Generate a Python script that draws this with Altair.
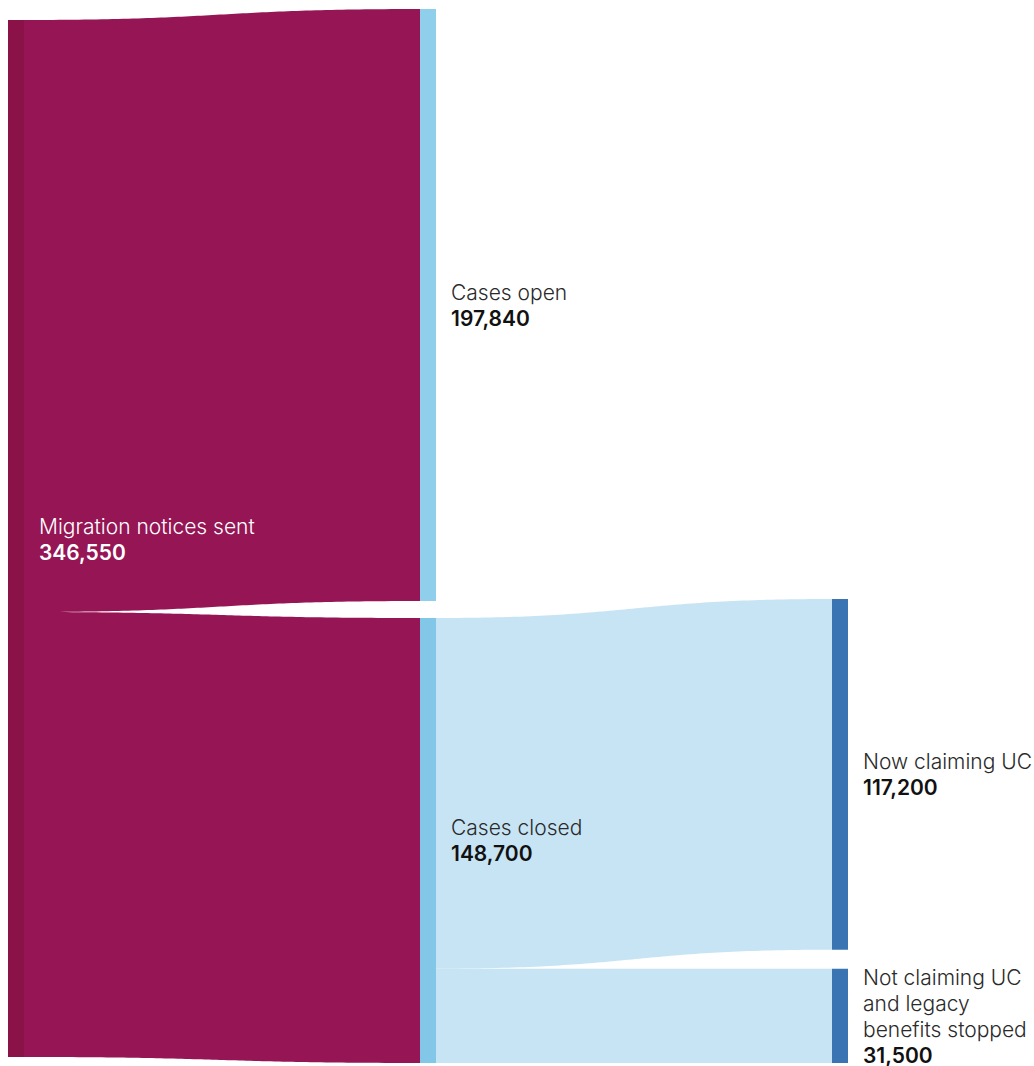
import altair as alt
import pandas as pd
import numpy as np

# ---------------- data ----------------
node_label_lines = [
    ["Migration notices sent"],
    ["Cases open"],
    ["Cases closed"],
    ["Now claiming UC"],
    ["Not claiming UC", "and legacy", "benefits stopped"],
]
node_values = [346550, 197840, 148700, 117200, 31500]
node_stage = [0, 1, 1, 2, 2]
node_colors = ["#8a1249", "#90cfeb", "#82c6e8", "#3a74b2", "#3a74b2"]

link_source = [0, 0, 2, 2]
link_target = [1, 2, 3, 4]
link_values = [197840, 148700, 117200, 31500]
link_colors = ["#951555", "#951555", "#c7e4f4", "#c7e4f4"]

# ---------------- layout constants ----------------
W, H = 1034, 1066
LEFT_PX, COL_STEP_PX, NODE_W_PX = 8, 412, 16
UPP = 346550 / 1037.0            # value units per pixel
COL_TOP_PX = {0: 20, 1: 9, 2: 599}
COL_PAD_PX = {0: 0, 1: 17, 2: 19}
LABEL_GAP_PX = 15
LINE_H_PX = 26
FONT = "Inter"
FONT_SIZE = 21

nw = NODE_W_PX / COL_STEP_PX
x_min = -LEFT_PX / COL_STEP_PX
x_max = (W - LEFT_PX) / COL_STEP_PX
y_max = H * UPP

# node positions
node_top = []
col_cursor = {}
for i, (s, v) in enumerate(zip(node_stage, node_values)):
    if s not in col_cursor:
        col_cursor[s] = COL_TOP_PX[s] * UPP
    node_top.append(col_cursor[s])
    col_cursor[s] += v + COL_PAD_PX[s] * UPP

nodes_df = pd.DataFrame({
    "x": node_stage,
    "x2": [s + nw for s in node_stage],
    "y": node_top,
    "y2": [t + v for t, v in zip(node_top, node_values)],
    "color": node_colors,
})

# link shapes (horizontal bezier as in d3-sankey)
out_cursor = {i: node_top[i] for i in range(len(node_values))}
in_cursor = {i: node_top[i] for i in range(len(node_values))}
rows = []
t = np.linspace(0, 1, 80)
for k, (s, tg, v, c) in enumerate(zip(link_source, link_target, link_values, link_colors)):
    ys = out_cursor[s]
    yt = in_cursor[tg]
    out_cursor[s] += v
    in_cursor[tg] += v
    x0 = node_stage[s] + nw
    x1 = node_stage[tg]
    xs = x0 + (x1 - x0) * (1.5 * t * (1 - t) + t ** 3)
    yc = ys + (yt - ys) * (3 * t ** 2 - 2 * t ** 3)
    for xx, yy in zip(xs, yc):
        rows.append({"link": k, "x": xx, "y0": yy, "y1": yy + v, "color": c})
links_df = pd.DataFrame(rows)

# labels
name_rows, value_rows = [], []
for i, lines in enumerate(node_label_lines):
    all_lines = lines + [f"{node_values[i]:,}"]
    n = len(all_lines)
    mid = node_top[i] + node_values[i] / 2
    lx = node_stage[i] + nw + LABEL_GAP_PX / COL_STEP_PX
    for j, line in enumerate(all_lines):
        yy = mid + (j - (n - 1) / 2) * LINE_H_PX * UPP
        is_value = j == n - 1
        if node_stage[i] == 0:
            col = "#ffffff"
        else:
            col = "#111111" if is_value else "#2a2a2a"
        row = {"x": lx, "y": yy, "text": line, "color": col}
        (value_rows if is_value else name_rows).append(row)
names_df = pd.DataFrame(name_rows)
values_df = pd.DataFrame(value_rows)

xs_ = alt.Scale(domain=[x_min, x_max], nice=False, zero=False)
ys_ = alt.Scale(domain=[0, y_max], reverse=True, nice=False, zero=False)

links = alt.Chart(links_df).mark_area(interpolate="linear", strokeWidth=0).encode(
    x=alt.X("x:Q", scale=xs_, axis=None),
    y=alt.Y("y0:Q", scale=ys_, axis=None, stack=None),
    y2="y1:Q",
    color=alt.Color("color:N", scale=None),
    detail="link:N",
)

nodes = alt.Chart(nodes_df).mark_rect().encode(
    x=alt.X("x:Q", scale=xs_, axis=None),
    x2="x2:Q",
    y=alt.Y("y:Q", scale=ys_, axis=None),
    y2="y2:Q",
    color=alt.Color("color:N", scale=None),
)

names = alt.Chart(names_df).mark_text(
    align="left", baseline="middle", font=FONT, fontSize=FONT_SIZE, fontWeight=300, dy=2
).encode(
    x=alt.X("x:Q", scale=xs_, axis=None),
    y=alt.Y("y:Q", scale=ys_, axis=None),
    text="text:N",
    color=alt.Color("color:N", scale=None),
)

values = alt.Chart(values_df).mark_text(
    align="left", baseline="middle", font=FONT, fontSize=FONT_SIZE, fontWeight=600, dy=2
).encode(
    x=alt.X("x:Q", scale=xs_, axis=None),
    y=alt.Y("y:Q", scale=ys_, axis=None),
    text="text:N",
    color=alt.Color("color:N", scale=None),
)

chart = alt.layer(links, nodes, names, values).properties(
    width=W, height=H, padding=0, autosize=alt.AutoSizeParams(type="none")
).configure_view(stroke=None)

chart.save("out.html", embed_options={"renderer": "svg", "actions": False})
